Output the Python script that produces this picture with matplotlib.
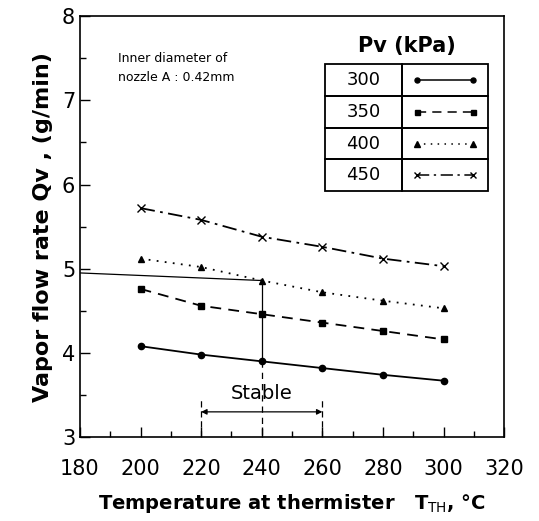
import matplotlib.pyplot as plt
from matplotlib.patches import Rectangle
from matplotlib.ticker import MultipleLocator

# --- data ---
temps = [200, 220, 240, 260, 280, 300]
pv_labels = ["300", "350", "400", "450"]
qv_300 = [4.08, 3.98, 3.90, 3.82, 3.74, 3.67]
qv_350 = [4.76, 4.56, 4.46, 4.36, 4.26, 4.16]
qv_400 = [5.12, 5.02, 4.86, 4.72, 4.62, 4.53]
qv_450 = [5.72, 5.58, 5.38, 5.26, 5.12, 5.03]
series = [qv_300, qv_350, qv_400, qv_450]

styles = [
    dict(linestyle="-", marker="o", markersize=4.5),
    dict(linestyle=(0, (6, 4)), marker="s", markersize=4.5),
    dict(linestyle=(0, (1, 3.5)), marker="^", markersize=5),
    dict(linestyle=(0, (8, 3, 1.5, 3)), marker="x", markersize=6),
]

stable_range = (220, 260)
op_temp = 240
op_left_q = 4.95
op_q = qv_400[2]

fig = plt.figure(figsize=(5.39, 5.21), dpi=100)
ax = fig.add_axes([0.1484, 0.161, 0.787, 0.808])

for vals, st in zip(series, styles):
    ax.plot(temps, vals, color="black", linewidth=1.3, **st)

# operating point guides
ax.plot([180, op_temp], [op_left_q, op_q], color="black", linewidth=0.9)
ax.plot([op_temp, op_temp], [op_q, qv_300[2]], color="black", linewidth=0.9)
ax.plot([op_temp, op_temp], [qv_300[2], 3.0], color="black", linewidth=0.9,
        linestyle=(0, (5, 4)))

# stable range marker
for t in stable_range:
    ax.plot([t, t], [3.0, 3.45], color="black", linewidth=0.9,
            linestyle=(0, (5, 3)))
ax.annotate("", xy=(stable_range[0], 3.3), xytext=(stable_range[1], 3.3),
            arrowprops=dict(arrowstyle="<|-|>", color="black", lw=0.9,
                            mutation_scale=8, shrinkA=0, shrinkB=0))
ax.text(240, 3.4, "Stable", ha="center", va="bottom", fontsize=14)

ax.text(0.09, 0.915, "Inner diameter of\nnozzle A : 0.42mm", transform=ax.transAxes,
        fontsize=9, ha="left", va="top", linespacing=1.6)

# legend table
ax.text(0.77, 0.93, "Pv (kPa)", transform=ax.transAxes, ha="center", va="center",
        fontsize=15, fontweight="bold")
x0, x1, x2 = 0.578, 0.759, 0.962
y_top, row_h = 0.886, 0.0755
for i, (lab, st) in enumerate(zip(pv_labels, styles)):
    yb = y_top - (i + 1) * row_h
    ax.add_patch(Rectangle((x0, yb), x1 - x0, row_h, transform=ax.transAxes,
                           fill=False, linewidth=1.3, edgecolor="black"))
    ax.add_patch(Rectangle((x1, yb), x2 - x1, row_h, transform=ax.transAxes,
                           fill=False, linewidth=1.3, edgecolor="black"))
    ax.text((x0 + x1) / 2, yb + row_h / 2, lab, transform=ax.transAxes,
            ha="center", va="center", fontsize=13)
    ax.plot([x1 + 0.035, x2 - 0.035], [yb + row_h / 2] * 2, transform=ax.transAxes,
            color="black", linewidth=1.1, markevery=[0, 1],
            **{k: (v * 0.8 if k == "markersize" else v) for k, v in st.items()})

ax.set_xlim(180, 320)
ax.set_ylim(3, 8)
ax.xaxis.set_major_locator(MultipleLocator(20))
ax.xaxis.set_minor_locator(MultipleLocator(10))
ax.yaxis.set_major_locator(MultipleLocator(1))
ax.yaxis.set_minor_locator(MultipleLocator(0.5))
ax.tick_params(which="both", direction="in", labelsize=15, width=1.0,
               top=False, right=False)
ax.tick_params(which="major", length=7)
ax.tick_params(which="minor", length=4)
ax.tick_params(axis="x", pad=16)
for s in ax.spines.values():
    s.set_linewidth(1.2)

ax.set_xlabel(r"Temperature at thermister   T$_{\mathrm{TH}}$, °C", fontsize=14,
              fontweight="bold", labelpad=9)
ax.set_ylabel("Vapor flow rate Qv , (g/min)", fontsize=16, fontweight="bold",
              labelpad=6)

fig.savefig("out.png", dpi=100)
